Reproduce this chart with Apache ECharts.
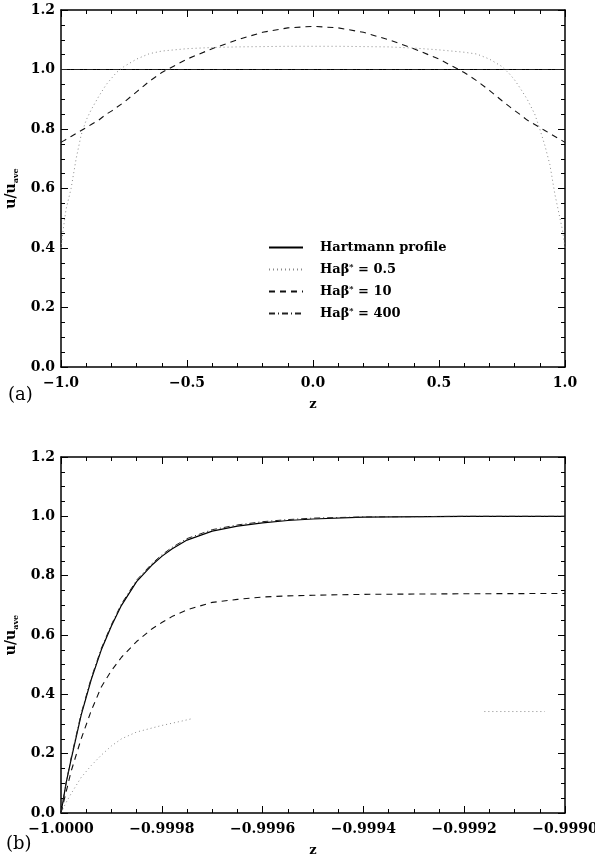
<!DOCTYPE html>
<html>
<head>
<meta charset="utf-8">
<script src="https://cdn.jsdelivr.net/npm/echarts@6/dist/echarts.min.js"></script>
<style>
  html, body { margin: 0; padding: 0; background: #fff; }
  #chart { width: 595px; height: 858px; }
</style>
</head>
<body>
<div id="chart"></div>
<script>
// panel (a): full channel, z from -1 to 1
const zA = [-1, -0.99, -0.98, -0.96, -0.94, -0.92, -0.9, -0.88, -0.85, -0.82, -0.8, -0.78, -0.75, -0.7, -0.65, -0.6, -0.5, -0.4, -0.3, -0.2, -0.1,
  0, 0.1, 0.2, 0.3, 0.4, 0.5, 0.6, 0.65, 0.7, 0.75, 0.78, 0.8, 0.82, 0.85, 0.88, 0.9, 0.92, 0.94, 0.96, 0.98, 0.99, 1]
const dotA = [0.40, 0.47, 0.53, 0.60, 0.70, 0.78, 0.83, 0.865, 0.91, 0.95, 0.97, 0.99, 1.01, 1.035, 1.053, 1.062, 1.07, 1.074, 1.076, 1.077, 1.078,
  1.078, 1.078, 1.077, 1.076, 1.072, 1.066, 1.058, 1.052, 1.035, 1.01, 0.985, 0.965, 0.94, 0.90, 0.85, 0.80, 0.745, 0.68, 0.58, 0.50, 0.46, 0.40]
const dashA = [0.755, 0.76, 0.765, 0.775, 0.785, 0.795, 0.805, 0.815, 0.83, 0.85, 0.86, 0.872, 0.89, 0.925, 0.96, 0.99, 1.035, 1.07, 1.10, 1.125, 1.14,
  1.145, 1.14, 1.125, 1.10, 1.07, 1.035, 0.99, 0.962, 0.93, 0.895, 0.875, 0.862, 0.85, 0.83, 0.815, 0.805, 0.795, 0.785, 0.775, 0.765, 0.76, 0.755]
const zAFlat = [-1, 1]
const hartA = [1.0, 1.0]
const dashDotA = [1.0, 1.0]

// panel (b): close-up of the wall at z = -1
const zB = [-1.0, -0.99999, -0.99998, -0.99996, -0.99994, -0.99992, -0.9999, -0.99988, -0.99985, -0.99982, -0.9998, -0.99978, -0.99975, -0.9997,
  -0.99965, -0.9996, -0.99955, -0.9995, -0.9994, -0.9992, -0.999]
const hartB = [0, 0.10, 0.18, 0.33, 0.45, 0.55, 0.63, 0.70, 0.78, 0.835, 0.865, 0.89, 0.92, 0.95, 0.967, 0.978, 0.986, 0.991, 0.997, 1.0, 1.0]
const dashDotB = [0, 0.10, 0.185, 0.335, 0.455, 0.555, 0.635, 0.705, 0.785, 0.84, 0.87, 0.895, 0.925, 0.955, 0.971, 0.982, 0.989, 0.994, 0.998, 1.0, 1.0]
const dashB = [0, 0.07, 0.14, 0.25, 0.345, 0.425, 0.48, 0.525, 0.578, 0.62, 0.642, 0.662, 0.685, 0.71, 0.72, 0.728, 0.732, 0.734, 0.737, 0.739, 0.74]
const zBDot = [-1.0, -0.99999, -0.99998, -0.99996, -0.99994, -0.99992, -0.9999, -0.99988, -0.99985, -0.9998, -0.99976, -0.99974, -0.9995, -0.99916, -0.99904]
const dotB = [0, 0.035, 0.065, 0.12, 0.16, 0.195, 0.226, 0.25, 0.273, 0.295, 0.31, 0.318, null, 0.342, 0.342]

const names = ['Hartmann profile', 'Haβ* = 0.5', 'Haβ* = 10', 'Haβ* = 400']

const pairs = (xs, ys) => xs.map((x, i) => [x, ys[i]])
const minus = s => s.replace('-', '\u2212')
const font = 'DejaVu Serif'

let chart = echarts.init(document.getElementById('chart'))

function xAx(grid, min, max, interval, digits, mirror) {
  return {
    type: 'value',
    gridIndex: grid,
    position: mirror ? 'top' : 'bottom',
    min: min,
    max: max,
    interval: interval,
    name: mirror ? '' : 'z',
    nameLocation: 'middle',
    nameGap: 31,
    nameTextStyle: { color: '#000', fontFamily: font, fontWeight: 'bold', fontSize: 13 },
    axisLine: { onZero: false, lineStyle: { color: '#000', width: 1.5 } },
    axisTick: { inside: true, length: 7, lineStyle: { color: '#000' } },
    minorTick: { show: true, splitNumber: digits === 1 ? 5 : 4, length: 4, lineStyle: { color: '#000' } },
    splitLine: { show: false },
    axisLabel: {
      show: !mirror,
      margin: 9,
      color: '#000',
      fontFamily: font,
      fontWeight: 'bold',
      fontSize: 14,
      showMinLabel: true,
      showMaxLabel: true,
      formatter: v => minus(v.toFixed(digits))
    }
  }
}

function yAx(grid, mirror) {
  return {
    type: 'value',
    gridIndex: grid,
    position: mirror ? 'right' : 'left',
    min: 0,
    max: 1.2,
    interval: 0.2,
    name: mirror ? '' : 'u/u{sub|ave}',
    nameLocation: 'middle',
    nameGap: 40,
    nameRotate: 90,
    nameTextStyle: {
      color: '#000', fontFamily: font, fontWeight: 'bold', fontSize: 14,
      rich: { sub: { fontFamily: font, fontWeight: 'bold', fontSize: 8, padding: [8, 0, 0, 0] } }
    },
    axisLine: { onZero: false, lineStyle: { color: '#000', width: 1.5 } },
    axisTick: { inside: true, length: 7, lineStyle: { color: '#000' } },
    minorTick: { show: true, splitNumber: 4, length: 4, lineStyle: { color: '#000' } },
    splitLine: { show: false },
    axisLabel: {
      show: !mirror,
      margin: 6,
      color: '#000',
      fontFamily: font,
      fontWeight: 'bold',
      fontSize: 14,
      formatter: v => v.toFixed(1)
    }
  }
}

function line(name, data, xi, style) {
  return {
    name: name,
    type: 'line',
    xAxisIndex: xi,
    yAxisIndex: xi,
    data: data,
    symbol: 'none',
    animation: false,
    color: style.color,
    lineStyle: style
  }
}

const solid = { color: '#000', width: 1.2, type: 'solid' }
const dotted = { color: '#8a8a8a', width: 1, type: [1, 3] }
const dashed = { color: '#111', width: 1.1, type: [6, 5] }
const dashDot = { color: '#222', width: 1, type: [6, 3, 1, 3] }

chart.setOption({
  backgroundColor: '#fff',
  grid: [
    { left: 61, right: 30, top: 10, height: 357, containLabel: false, outerBoundsMode: 'none' },
    { left: 61, right: 30, top: 457, height: 356, containLabel: false, outerBoundsMode: 'none' }
  ],
  xAxis: [
    xAx(0, -1, 1, 0.5, 1, false),
    xAx(0, -1, 1, 0.5, 1, true),
    xAx(1, -1.0, -0.999, 0.0002, 4, false),
    xAx(1, -1.0, -0.999, 0.0002, 4, true)
  ],
  yAxis: [yAx(0, false), yAx(0, true), yAx(1, false), yAx(1, true)],
  legend: {
    data: names,
    orient: 'vertical',
    left: 263,
    top: 236,
    itemWidth: 34,
    itemHeight: 14,
    itemGap: 8.5,
    selectedMode: false,
    itemStyle: { opacity: 0 },
    formatter: n => n.replace('*', '{s|*}'),
    textStyle: {
      color: '#000', fontFamily: font, fontWeight: 'bold', fontSize: 13, padding: [0, 0, 0, 12],
      rich: { s: { fontFamily: font, fontWeight: 'bold', fontSize: 8, padding: [0, 0, 6, 0] } }
    }
  },
  graphic: [
    { type: 'text', left: 8, top: 386, style: { text: '(a)', font: '18px "DejaVu Serif"', fill: '#000' } },
    { type: 'text', left: 6, top: 835, style: { text: '(b)', font: '18px "DejaVu Serif"', fill: '#000' } }
  ],
  series: [
    line(names[0], pairs(zAFlat, hartA), 0, solid),
    line(names[1], pairs(zA, dotA), 0, dotted),
    line(names[2], pairs(zA, dashA), 0, dashed),
    line(names[3], pairs(zAFlat, dashDotA), 0, dashDot),
    line(names[0], pairs(zB, hartB), 2, solid),
    line(names[1], pairs(zBDot, dotB), 2, dotted),
    line(names[2], pairs(zB, dashB), 2, dashed),
    line(names[3], pairs(zB, dashDotB), 2, dashDot)
  ]
})
</script>
</body>
</html>
